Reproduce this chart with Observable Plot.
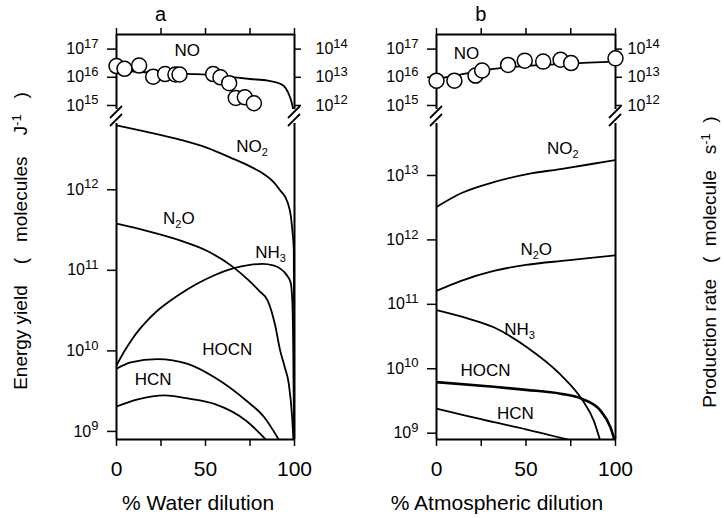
<!DOCTYPE html>
<html><head><meta charset="utf-8">
<script src="https://cdn.jsdelivr.net/npm/d3@7"></script>
<script src="https://cdn.jsdelivr.net/npm/@observablehq/plot@0.6"></script>
<style>
body{margin:0;background:#fff;}
#chart{position:relative;width:724px;height:518px;background:#fff;}
#chart svg{position:absolute;left:0;top:0;}
</style></head><body><div id="chart"></div>
<script>
// ---------- axis ticks & labels ----------
const xTicks = [0, 25, 50, 75, 100];
const xTickLabels = ["0", "", "50", "", "100"];
const upperTicks = [1e15, 1e16, 1e17];
const upperLeftLabels = ["10^{15}", "10^{16}", "10^{17}"];
const upperRightLabels = ["10^{12}", "10^{13}", "10^{14}"];
const lowerTicksA = [1e9, 1e10, 1e11, 1e12];
const lowerLabelsA = ["10^{9}", "10^{10}", "10^{11}", "10^{12}"];
const lowerTicksB = [1e9, 1e10, 1e11, 1e12, 1e13];
const lowerLabelsB = ["10^{9}", "10^{10}", "10^{11}", "10^{12}", "10^{13}"];
const upperDomain = [7.2e14, 3.3e17];
const lowerDomainA = [7.94e8, 6.65e12];
const lowerDomainB = [7.98e8, 6.41e13];

// ---------- panel a (water dilution) ----------
const aNOobsX = [0, 4.5, 12.7, 20.6, 27.3, 33.1, 35.4, 54.3, 58.4, 63.3, 67, 72.1, 77.2];
const aNOobsY = [2.5e16, 2.0e16, 2.6e16, 1.05e16, 1.3e16, 1.26e16, 1.26e16, 1.3e16, 1.0e16, 6.2e15, 1.86e15, 1.95e15, 1.2e15];
const aNOfitX = [0, 20, 40, 55, 65, 75, 85, 92, 95, 97.5, 99, 100];
const aNOfitY = [1.78e16, 1.48e16, 1.32e16, 1.2e16, 1.02e16, 8.7e15, 7.6e15, 5.9e15, 4.2e15, 1.95e15, 8.7e14, 3.2e14];
const aNO2X = [0, 17, 36, 51, 64, 75, 81, 88, 92, 96, 98, 99, 99.6, 100];
const aNO2Y = [6.31e12, 5.25e12, 4.17e12, 3.31e12, 2.51e12, 1.95e12, 1.66e12, 1.26e12, 9.8e11, 7.1e11, 4.6e11, 2.8e11, 1.8e11, 6e8];
const aN2OX = [0, 17, 36, 51, 65, 74, 80, 85, 89, 92, 94.5, 96.8, 98.7, 99.5];
const aN2OY = [3.8e11, 3.09e11, 2.34e11, 1.74e11, 1.12e11, 7.6e10, 5.6e10, 4.17e10, 2.14e10, 1.0e10, 6.3e9, 3.9e9, 1.48e9, 7.1e8];
const aNH3X = [0, 4, 8, 13, 17, 22, 27, 36, 45, 55, 65, 75, 82, 88, 92, 95, 97.8, 98.8, 99.3, 99.6, 100];
const aNH3Y = [6.6e9, 9.55e9, 1.32e10, 1.86e10, 2.34e10, 3.02e10, 3.72e10, 5.13e10, 6.76e10, 8.7e10, 1.05e11, 1.17e11, 1.2e11, 1.15e11, 1.05e11, 9.1e10, 7.1e10, 4.0e10, 1.0e10, 2.0e9, 6.3e8];
const aHOCNX = [0, 8, 23, 40, 55, 73, 83, 91.2];
const aHOCNY = [6.0e9, 7.2e9, 7.9e9, 6.9e9, 4.7e9, 2.4e9, 1.5e9, 7.9e8];
const aHCNX = [0, 12, 27, 40, 55, 73, 84];
const aHCNY = [2.04e9, 2.5e9, 2.8e9, 2.57e9, 2.2e9, 1.35e9, 7.9e8];
const aUpperLabels = ["NO"];
const aUpperLabelX = [39.7];
const aUpperLabelY = [8.9e16];
const aLowerLabels = ["NO_{2}", "N_{2}O", "NH_{3}", "HOCN", "HCN"];
const aLowerLabelX = [76.2, 35, 86.5, 62.2, 20.6];
const aLowerLabelY = [3.4e12, 4.4e11, 1.68e11, 1.05e10, 4.4e9];

// ---------- panel b (atmospheric dilution) ----------
const bNOobsX = [0, 10, 21.8, 25.5, 40, 49.3, 59.6, 69.3, 75.2, 100];
const bNOobsY = [7.6e15, 7.6e15, 1.15e16, 1.74e16, 2.75e16, 3.9e16, 3.6e16, 4.2e16, 3.2e16, 4.7e16];
const bErrX = [0, 10, 21.8];
const bErrY = [7.6e15, 7.6e15, 1.15e16];
const bErrLow = [4.3e15, 5.0e15, 6.5e15];
const bNOfitX = [0, 12.7, 25.5, 40, 55, 69, 85, 100];
const bNOfitY = [8.7e15, 1.23e16, 1.74e16, 2.24e16, 2.63e16, 2.95e16, 3.3e16, 3.6e16];
const bNO2X = [0, 13.4, 32, 50.7, 69.3, 85, 100];
const bNO2Y = [3.24e12, 5.25e12, 7.9e12, 1.05e13, 1.26e13, 1.48e13, 1.74e13];
const bN2OX = [0, 13.4, 32, 50, 73, 100];
const bN2OY = [1.62e11, 2.3e11, 3.3e11, 4.1e11, 4.8e11, 5.75e11];
const bNH3X = [0, 16, 32, 50.7, 69.3, 81.4, 87.9, 91.3];
const bNH3Y = [8.1e10, 6.2e10, 4.4e10, 2.14e10, 8.1e9, 3.3e9, 1.55e9, 7.9e8];
const bHOCNX = [0, 32, 50, 69.3, 81.4, 91.6, 97.2, 99.4];
const bHOCNY = [6.2e9, 5.25e9, 4.7e9, 4.1e9, 3.4e9, 2.24e9, 1.23e9, 7.9e8];
const bHCNX = [0, 32, 50, 74];
const bHCNY = [2.4e9, 1.48e9, 1.15e9, 7.9e8];
const bUpperLabels = ["NO"];
const bUpperLabelX = [16.8];
const bUpperLabelY = [6.7e16];
const bLowerLabels = ["NO_{2}", "N_{2}O", "NH_{3}", "HOCN", "HCN"];
const bLowerLabelX = [70.6, 55.7, 46.4, 27.4, 44.1];
const bLowerLabelY = [2.6e13, 7.0e11, 4.0e10, 9.5e9, 2.04e9];

// ---------- layout ----------
const W = 724, H = 518;
const FONT = '"Liberation Sans", Arial, Helvetica, sans-serif';
const frameA = {left: 116, right: 294}, frameB = {left: 436, right: 615};
const upperBand = {top: 34, bottom: 109}, lowerBand = {top: 123, bottom: 439};

const rows = (xs, ys, s) => xs.map((x, i) => ({x, y: ys[i], s}));
const labelRows = (t, xs, ys) => t.map((t, i) => ({t, x: xs[i], y: ys[i]}));
const fmt = (ticks, labels) => d => { const i = ticks.indexOf(d); return i < 0 ? "" : labels[i]; };
const LW = 1.8;

function makePanel(frame, band, yDomain, marks) {
  return Plot.plot({
    width: W, height: H,
    marginLeft: frame.left, marginRight: W - frame.right,
    marginTop: band.top, marginBottom: H - band.bottom,
    style: {background: "transparent", fontFamily: FONT, fontSize: "17px", color: "black", overflow: "visible"},
    x: {domain: [0, 100], label: null},
    y: {type: "log", domain: yDomain, label: null},
    marks
  });
}

function upperMarks(domain, leftPad, rightPad, fitX, fitY, obsX, obsY, lab, extra) {
  return [
    Plot.axisX({anchor: "top", ticks: xTicks, tickSize: 7, tickFormat: () => "", strokeWidth: 1.5}),
    Plot.axisY({anchor: "left", ticks: upperTicks, tickSize: 9, tickPadding: leftPad, tickFormat: fmt(upperTicks, upperLeftLabels), fontSize: 16, strokeWidth: 1.5}),
    Plot.axisY({anchor: "right", ticks: upperTicks, tickSize: 6, tickPadding: rightPad, tickFormat: fmt(upperTicks, upperRightLabels), fontSize: 16, strokeWidth: 1.5}),
    Plot.ruleX([0, 100], {strokeWidth: 2}),
    Plot.ruleY([domain[1]], {strokeWidth: 2}),
    Plot.line(rows(fitX, fitY, "NO"), {x: "x", y: "y", curve: "monotone-x", stroke: "black", strokeWidth: LW, clip: true}),
    ...(extra || []),
    Plot.dot(rows(obsX, obsY, "obs"), {x: "x", y: "y", r: 7.5, fill: "white", stroke: "black", strokeWidth: 1.5}),
    Plot.text(lab, {x: "x", y: "y", text: "t", fontSize: 17, textAnchor: "middle"})
  ];
}

function lowerMarks(domain, ticks, labels, series, lab, thick) {
  return [
    Plot.axisX({anchor: "bottom", ticks: xTicks, tickSize: 7, tickPadding: 15, tickFormat: fmt(xTicks, xTickLabels), fontSize: 21, strokeWidth: 1.5}),
    Plot.axisY({anchor: "left", ticks, tickSize: 9, tickPadding: 9, tickFormat: fmt(ticks, labels), fontSize: 16, strokeWidth: 1.5}),
    Plot.ruleX([0, 100], {strokeWidth: 2}),
    Plot.ruleY([domain[0]], {strokeWidth: 2}),
    Plot.line(series, {x: "x", y: "y", z: "s", curve: "monotone-x", stroke: "black", strokeWidth: LW, clip: true}),
    ...(thick ? [Plot.line(thick, {x: "x", y: "y", curve: "monotone-x", stroke: "black", strokeWidth: 2.6, clip: true})] : []),
    Plot.text(lab, {x: "x", y: "y", text: "t", fontSize: 17, textAnchor: "middle"})
  ];
}

const SVGNS = "http://www.w3.org/2000/svg";
function richify(el) {
  const s = el.textContent;
  if (!/[_^]\{/.test(s)) return;
  const re = /([_^])\{([^}]*)\}/g;
  let last = 0, m, cur = 0;
  while (el.firstChild) el.removeChild(el.firstChild);
  const add = (txt, target, size) => {
    const ts = document.createElementNS(SVGNS, "tspan");
    if (target !== cur) ts.setAttribute("dy", target - cur);
    cur = target;
    if (size) ts.setAttribute("font-size", size);
    ts.textContent = txt;
    el.appendChild(ts);
  };
  while ((m = re.exec(s))) {
    if (m.index > last) add(s.slice(last, m.index), 0, null);
    if (m[1] === "^") add(m[2], -6.5, 13); else add(m[2], 4, 11);
    last = re.lastIndex;
  }
  if (last < s.length) add(s.slice(last), 0, null);
}

const chart = document.getElementById("chart");
const plots = [
  makePanel(frameA, upperBand, upperDomain,
    upperMarks(upperDomain, 9, 15, aNOfitX, aNOfitY, aNOobsX, aNOobsY, labelRows(aUpperLabels, aUpperLabelX, aUpperLabelY))),
  makePanel(frameA, lowerBand, lowerDomainA,
    lowerMarks(lowerDomainA, lowerTicksA, lowerLabelsA,
      [...rows(aNO2X, aNO2Y, "NO2"), ...rows(aN2OX, aN2OY, "N2O"), ...rows(aNH3X, aNH3Y, "NH3"), ...rows(aHOCNX, aHOCNY, "HOCN"), ...rows(aHCNX, aHCNY, "HCN")],
      labelRows(aLowerLabels, aLowerLabelX, aLowerLabelY), null)),
  makePanel(frameB, upperBand, upperDomain,
    upperMarks(upperDomain, 9, 6, bNOfitX, bNOfitY, bNOobsX, bNOobsY, labelRows(bUpperLabels, bUpperLabelX, bUpperLabelY), [
      Plot.link(bErrX.map((x, i) => ({x, y1: bErrY[i], y2: bErrLow[i]})), {x1: "x", x2: "x", y1: "y1", y2: "y2", stroke: "black", strokeWidth: 1.5}),
      Plot.dot(bErrX.map((x, i) => ({x, y: bErrLow[i]})), {x: "x", y: "y", symbol: {draw(c, size) { const r = Math.sqrt(size) / 2; c.moveTo(-r, 0); c.lineTo(r, 0); }}, r: 4, stroke: "black", strokeWidth: 1.5, fill: "none"})
    ])),
  makePanel(frameB, lowerBand, lowerDomainB,
    lowerMarks(lowerDomainB, lowerTicksB, lowerLabelsB,
      [...rows(bNO2X, bNO2Y, "NO2"), ...rows(bN2OX, bN2OY, "N2O"), ...rows(bNH3X, bNH3Y, "NH3"), ...rows(bHCNX, bHCNY, "HCN")],
      labelRows(bLowerLabels, bLowerLabelX, bLowerLabelY), rows(bHOCNX, bHOCNY, "HOCN")))
];
for (const p of plots) {
  p.querySelectorAll("text").forEach(richify);
  chart.appendChild(p);
}

// ---------- overlay: titles & axis breaks ----------
const ov = d3.create("svg").attr("width", W).attr("height", H)
  .style("font-family", FONT).style("overflow", "visible");
const brk = ov.append("g").attr("stroke", "black").attr("stroke-width", 1.8);
for (const f of [frameA, frameB]) {
  for (const x of [f.left, f.right]) {
    for (const y of [112, 120]) {
      brk.append("line").attr("x1", x - 6).attr("y1", y + 6).attr("x2", x + 6).attr("y2", y - 6);
    }
  }
}
const txt = (x, y, s, size, rot) => {
  const t = ov.append("text").attr("text-anchor", "middle").style("font-size", size + "px")
    .style("white-space", "pre").text(s);
  if (rot) t.attr("transform", `translate(${x},${y}) rotate(-90)`);
  else t.attr("x", x).attr("y", y);
  richify(t.node());
  return t;
};
txt((frameA.left * 3 + frameA.right) / 4, 21, "a", 20);
txt((frameB.left * 3 + frameB.right) / 4, 21, "b", 20);
txt(198, 510, "% Water dilution", 21);
txt(497, 510, "% Atmospheric dilution", 21);
txt(27, 241, "Energy yield    (   molecules    J^{-1}   )", 19, true);
txt(716, 262, "Production rate   (  molecule   s^{-1}  )", 19, true);
chart.appendChild(ov.node());
</script></body></html>
